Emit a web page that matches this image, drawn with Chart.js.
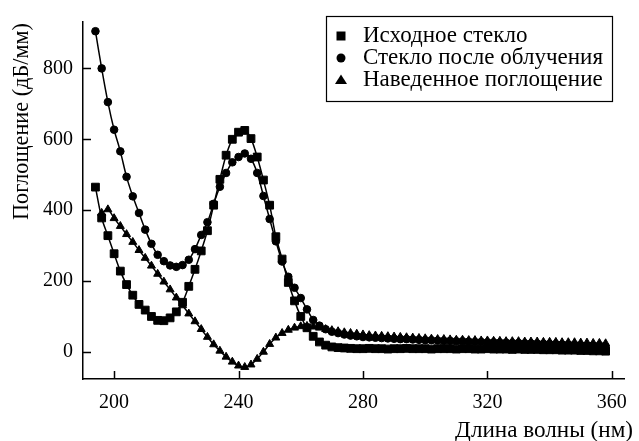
<!DOCTYPE html>
<html>
<head>
<meta charset="utf-8">
<script src="https://cdn.jsdelivr.net/npm/chart.js@4.4.0/dist/chart.umd.min.js"></script>
<style>
  html, body { margin: 0; padding: 0; background: #fff; }
  #wrap { width: 639px; height: 441px; }
</style>
</head>
<body>
<div id="wrap"><canvas id="grafiek"></canvas></div>
<script>
// golflengte (нм)
const wavelengths = [194,196,198,200,202,204,206,208,210,212,214,216,218,220,222,224,226,228,230,232,234,236,238,240,242,244,246,248,250,252,254,256,258,260,262,264,266,268,270,272,274,276,278,280,282,284,286,288,290,292,294,296,298,300,302,304,306,308,310,312,314,316,318,320,322,324,326,328,330,332,334,336,338,340,342,344,346,348,350,352,354,356,358];

// Исходное стекло (квадраты)
const originalGlass = [465,378,328,277,228,190,160,134,118,100,89,88,96,113,140,185,233,285,342,414,487,555,600,620,625,602,550,485,414,325,262,196,144,100,68,44,28,19,14,12,11,10,9,9,10,9,9,8,9,9,10,9,9,9,8,9,9,9,8,9,9,8,8,9,8,8,8,7,8,7,7,7,6,6,6,5,5,5,4,4,3,3,2];

// Стекло после облучения (кружки)
const irradiatedGlass = [905,800,705,627,566,494,439,392,345,305,274,256,244,240,245,260,290,330,366,418,466,505,535,550,560,545,505,440,375,312,255,212,181,152,120,90,74,64,57,53,49,46,44,42,41,40,39,38,37,36,36,35,34,33,33,32,31,31,30,30,29,28,28,27,27,26,26,25,25,24,24,23,23,22,22,21,20,19,18,17,16,15,14];

// Наведенное поглощение (треугольники)
const inducedAbsorption = [null,392,402,377,355,332,310,287,265,243,220,198,176,153,131,108,86,64,42,21,3,-14,-28,-39,-43,-36,-20,0,22,40,53,62,68,72,73,71,68,64,61,58,55,53,51,49,47,46,45,44,43,42,41,40,39,38,37,36,36,35,34,34,33,33,32,32,31,31,30,30,30,29,29,29,28,28,28,27,27,27,26,26,25,25,24];

const seriesNames = ['Исходное стекло', 'Стекло после облучения', 'Наведенное поглощение'];
const seriesStyles = ['rect', 'circle', 'triangle'];
const xTicks = [200, 240, 280, 320, 360];
const yTicks = [0, 200, 400, 600, 800];

const FONT = "'Liberation Serif', 'Times New Roman', serif";

function toPoints(values) {
    return wavelengths.map((x, i) => ({ x: x, y: values[i] }));
}

function makeDataset(i, values, radius) {
    return {
        label: seriesNames[i],
        data: toPoints(values),
        borderColor: '#000',
        borderWidth: 1.5,
        backgroundColor: '#000',
        pointStyle: seriesStyles[i],
        pointRadius: radius,
        pointBackgroundColor: '#000',
        pointBorderColor: '#000',
        pointBorderWidth: 1,
        tension: 0.3,
        fill: false
    };
}

// lettergrootte zo kiezen dat de tekst de gewenste breedte krijgt
function fitFont(ctx, text, width) {
    ctx.font = '20px ' + FONT;
    const size = 20 * width / ctx.measureText(text).width;
    ctx.font = size.toFixed(2) + 'px ' + FONT;
}

// ticks die naar binnen wijzen + astitels + legenda in een kader
const decorations = {
    id: 'decorations',
    afterDraw(chart) {
        const ctx = chart.ctx;
        const xs = chart.scales.x, ys = chart.scales.y;
        const area = chart.chartArea;
        ctx.save();
        ctx.strokeStyle = '#000';
        ctx.lineWidth = 1.5;
        ctx.beginPath();
        xTicks.forEach(v => {
            const px = Math.round(xs.getPixelForValue(v)) + 0.5;
            ctx.moveTo(px, area.bottom);
            ctx.lineTo(px, area.bottom - 8);
        });
        yTicks.forEach(v => {
            const py = Math.round(ys.getPixelForValue(v)) + 0.5;
            ctx.moveTo(area.left, py);
            ctx.lineTo(area.left + 8, py);
        });
        ctx.stroke();

        // astitels
        ctx.fillStyle = '#000';
        fitFont(ctx, 'Длина волны (нм)', 178);
        ctx.textAlign = 'right';
        ctx.textBaseline = 'alphabetic';
        ctx.fillText('Длина волны (нм)', 633, 437);
        ctx.save();
        ctx.translate(28, 121.5);
        ctx.rotate(-Math.PI / 2);
        fitFont(ctx, 'Поглощение (дБ/мм)', 197);
        ctx.textAlign = 'center';
        ctx.fillText('Поглощение (дБ/мм)', 0, 0);
        ctx.restore();

        // legenda
        const box = { left: 326, top: 16, right: 612, bottom: 101 };
        ctx.fillStyle = '#fff';
        ctx.fillRect(box.left, box.top, box.right - box.left, box.bottom - box.top);
        ctx.lineWidth = 1.2;
        ctx.strokeRect(box.left + 0.5, box.top + 0.5, box.right - box.left, box.bottom - box.top);
        ctx.fillStyle = '#000';
        fitFont(ctx, seriesNames[1], 240);
        const rows = [36, 58, 80];
        rows.forEach((y, i) => {
            const mx = 341;
            ctx.beginPath();
            if (seriesStyles[i] === 'rect') {
                ctx.rect(mx - 4.5, y - 4.5, 9, 9);
            } else if (seriesStyles[i] === 'circle') {
                ctx.arc(mx, y, 4.5, 0, Math.PI * 2);
            } else {
                ctx.moveTo(mx, y - 5.5);
                ctx.lineTo(mx + 6, y + 4);
                ctx.lineTo(mx - 6, y + 4);
                ctx.closePath();
            }
            ctx.fill();
            ctx.textAlign = 'left';
            ctx.textBaseline = 'middle';
            ctx.fillText(seriesNames[i], 363, y);
        });
        ctx.restore();
    }
};

new Chart(document.getElementById('grafiek'), {
    type: 'line',
    data: {
        datasets: [
            makeDataset(0, originalGlass, 5.5),
            makeDataset(1, irradiatedGlass, 3.8),
            makeDataset(2, inducedAbsorption, 4.6)
        ]
    },
    options: {
        responsive: true,
        maintainAspectRatio: false,
        animation: false,
        layout: { padding: { top: 10, right: 1, left: 0, bottom: 0 } },
        plugins: { legend: { display: false }, tooltip: { enabled: false } },
        scales: {
            x: {
                type: 'linear',
                min: 190,
                max: 364.1,
                afterBuildTicks: s => { s.ticks = xTicks.map(v => ({ value: v })); },
                afterFit: s => { s.height = 62; },
                grid: { display: false, drawTicks: false },
                border: { display: true, color: '#000', width: 1.5 },
                ticks: { color: '#000', padding: 12, font: { family: FONT, size: 20 } }
            },
            y: {
                type: 'linear',
                min: -76.5,
                max: 931,
                afterBuildTicks: s => { s.ticks = yTicks.map(v => ({ value: v })); },
                afterFit: s => { s.width = 83; },
                grid: { display: false, drawTicks: false },
                border: { display: true, color: '#000', width: 1.5 },
                ticks: { color: '#000', padding: 10, font: { family: FONT, size: 20 } }
            }
        }
    },
    plugins: [decorations]
});
</script>
</body>
</html>
